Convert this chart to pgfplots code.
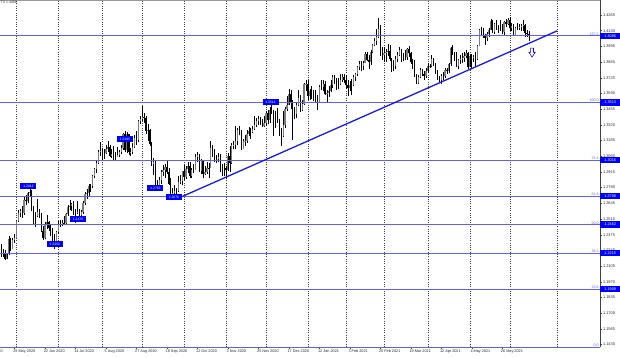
\documentclass[border=0pt]{standalone}
\usepackage{pgfplots}
\pgfplotsset{compat=1.18}
\usepackage{pgfplotstable}
\usepackage{fontspec}
\setmainfont{Liberation Sans}
\newcommand{\fs}[1]{\fontsize{#1}{#1}\selectfont}
\definecolor{fibo}{RGB}{95,95,245}
\definecolor{mtblue}{RGB}{0,0,255}
\definecolor{trend}{RGB}{25,25,225}
\definecolor{bull}{RGB}{125,125,125}
\pgfdeclareplotmark{hdown}{%
  \pgfpathmoveto{\pgfqpoint{-1.4pt}{4.5pt}}%
  \pgfpathlineto{\pgfqpoint{1.4pt}{4.5pt}}%
  \pgfpathlineto{\pgfqpoint{1.4pt}{0.3pt}}%
  \pgfpathlineto{\pgfqpoint{3.2pt}{0.3pt}}%
  \pgfpathlineto{\pgfqpoint{0pt}{-4.5pt}}%
  \pgfpathlineto{\pgfqpoint{-3.2pt}{0.3pt}}%
  \pgfpathlineto{\pgfqpoint{-1.4pt}{0.3pt}}%
  \pgfpathclose
  \pgfusepathqfillstroke
}
\pgfplotstableread{
i o h l c
-7 1.2245 1.2295 1.2185 1.2205
-6 1.2205 1.2250 1.2180 1.2215
-5 1.2215 1.2240 1.2160 1.2170
-4 1.2170 1.2215 1.2165 1.2205
-3 1.2205 1.2365 1.2200 1.2335
-2 1.2335 1.2350 1.2235 1.2255
-1 1.2255 1.2350 1.2250 1.2330
0 1.2330 1.2385 1.2300 1.2345
1 1.2345 1.2505 1.2345 1.2490
2 1.2490 1.2585 1.2485 1.2565
3 1.2565 1.2600 1.2525 1.2580
4 1.2580 1.2620 1.2520 1.2560
5 1.2560 1.2700 1.2545 1.2670
6 1.2670 1.2715 1.2630 1.2665
7 1.2665 1.2745 1.2645 1.2735
8 1.2735 1.2813 1.2705 1.2740
9 1.2740 1.2760 1.2575 1.2595
10 1.2595 1.2625 1.2455 1.2545
11 1.2545 1.2570 1.2440 1.2540
12 1.2540 1.2680 1.2525 1.2570
13 1.2570 1.2600 1.2520 1.2550
14 1.2550 1.2560 1.2395 1.2410
15 1.2410 1.2450 1.2330 1.2345
16 1.2345 1.2485 1.2335 1.2470
17 1.2470 1.2545 1.2425 1.2485
18 1.2485 1.2495 1.2410 1.2430
19 1.2430 1.2460 1.2360 1.2415
20 1.2415 1.2435 1.2320 1.2335
21 1.2335 1.2380 1.2252 1.2320
22 1.2320 1.2410 1.2300 1.2400
23 1.2400 1.2490 1.2385 1.2470
24 1.2470 1.2505 1.2440 1.2470
25 1.2470 1.2500 1.2450 1.2480
26 1.2480 1.2535 1.2455 1.2475
27 1.2475 1.2565 1.2470 1.2550
28 1.2550 1.2630 1.2535 1.2615
29 1.2615 1.2670 1.2585 1.2620
30 1.2620 1.2650 1.2575 1.2635
31 1.2635 1.2665 1.2545 1.2560
32 1.2560 1.2595 1.2480 1.2560
33 1.2560 1.2665 1.2555 1.2570
34 1.2570 1.2600 1.2525 1.2545
35 1.2545 1.2590 1.2510 1.2570
36 1.2570 1.2665 1.2555 1.2645
37 1.2645 1.2745 1.2630 1.2725
38 1.2725 1.2765 1.2685 1.2735
39 1.2735 1.2810 1.2705 1.2795
40 1.2795 1.2815 1.2740 1.2795
41 1.2795 1.2890 1.2780 1.2880
42 1.2880 1.2950 1.2860 1.2940
43 1.2940 1.3015 1.2910 1.2995
44 1.2995 1.3105 1.2980 1.3090
45 1.3090 1.3170 1.3055 1.3095
46 1.3095 1.3125 1.3005 1.3075
47 1.3075 1.3115 1.3030 1.3075
48 1.3075 1.3145 1.3065 1.3110
49 1.3110 1.3185 1.3090 1.3130
50 1.3130 1.3145 1.3045 1.3055
51 1.3055 1.3115 1.3035 1.3070
52 1.3070 1.3135 1.3015 1.3045
53 1.3045 1.3090 1.3005 1.3045
54 1.3045 1.3130 1.3040 1.3060
55 1.3060 1.3105 1.3045 1.3090
56 1.3090 1.3150 1.3070 1.3120
57 1.3120 1.3250 1.3105 1.3240
58 1.3240 1.3265 1.3090 1.3100
59 1.3100 1.3255 1.3080 1.3240
60 1.3240 1.3240 1.3060 1.3085
61 1.3085 1.3125 1.3055 1.3090
62 1.3090 1.3160 1.3065 1.3130
63 1.3130 1.3235 1.3120 1.3210
64 1.3210 1.3265 1.3145 1.3190
65 1.3190 1.3360 1.3175 1.3350
66 1.3350 1.3400 1.3325 1.3370
67 1.3370 1.3482 1.3350 1.3385
68 1.3385 1.3425 1.3340 1.3380
69 1.3380 1.3395 1.3240 1.3270
70 1.3270 1.3325 1.3180 1.3280
71 1.3280 1.3285 1.3140 1.3155
72 1.3155 1.3170 1.2965 1.2980
73 1.2980 1.3035 1.2885 1.3000
74 1.3000 1.3010 1.2780 1.2795
75 1.2795 1.2845 1.2762 1.2795
76 1.2795 1.2870 1.2775 1.2845
77 1.2845 1.2930 1.2815 1.2915
78 1.2915 1.2975 1.2880 1.2935
79 1.2935 1.2985 1.2865 1.2960
80 1.2960 1.3005 1.2900 1.2915
81 1.2915 1.2950 1.2805 1.2815
82 1.2815 1.2860 1.2715 1.2730
83 1.2730 1.2775 1.2676 1.2735
84 1.2735 1.2805 1.2690 1.2750
85 1.2750 1.2775 1.2720 1.2750
86 1.2750 1.2880 1.2740 1.2825
87 1.2825 1.2890 1.2810 1.2835
88 1.2835 1.2925 1.2800 1.2920
89 1.2920 1.2975 1.2845 1.2870
90 1.2870 1.2965 1.2850 1.2940
91 1.2940 1.3000 1.2905 1.2970
92 1.2970 1.3000 1.2865 1.2880
93 1.2880 1.2950 1.2860 1.2935
94 1.2935 1.2985 1.2910 1.2930
95 1.2930 1.3065 1.2930 1.3045
96 1.3045 1.3085 1.3000 1.3060
97 1.3060 1.3070 1.2915 1.2925
98 1.2925 1.3030 1.2895 1.3015
99 1.3015 1.3015 1.2865 1.2895
100 1.2895 1.2965 1.2890 1.2915
101 1.2915 1.3000 1.2900 1.2950
102 1.2950 1.2995 1.2865 1.2945
103 1.2945 1.3177 1.2945 1.3120
104 1.3120 1.3150 1.3045 1.3080
105 1.3080 1.3110 1.3000 1.3035
106 1.3035 1.3060 1.2990 1.3025
107 1.3025 1.3075 1.3000 1.3045
108 1.3045 1.3070 1.2915 1.2965
109 1.2965 1.2985 1.2880 1.2950
110 1.2950 1.2990 1.2880 1.2950
111 1.2950 1.2965 1.2855 1.2930
112 1.2930 1.3080 1.2920 1.3050
113 1.3050 1.3140 1.2915 1.2990
114 1.2990 1.3160 1.2985 1.3145
115 1.3145 1.3180 1.3110 1.3150
116 1.3150 1.3314 1.3110 1.3180
117 1.3180 1.3295 1.3150 1.3275
118 1.3275 1.3312 1.3230 1.3270
119 1.3270 1.3275 1.3105 1.3115
120 1.3115 1.3200 1.3110 1.3180
121 1.3180 1.3230 1.3140 1.3185
122 1.3185 1.3280 1.3165 1.3245
123 1.3245 1.3300 1.3225 1.3270
124 1.3270 1.3290 1.3200 1.3260
125 1.3260 1.3310 1.3250 1.3285
126 1.3285 1.3395 1.3280 1.3320
127 1.3320 1.3375 1.3300 1.3350
128 1.3350 1.3400 1.3320 1.3370
129 1.3370 1.3390 1.3320 1.3340
130 1.3340 1.3370 1.3300 1.3310
131 1.3310 1.3395 1.3300 1.3335
132 1.3335 1.3440 1.3310 1.3425
133 1.3425 1.3445 1.3325 1.3365
134 1.3365 1.3470 1.3340 1.3450
135 1.3450 1.3540 1.3415 1.3440
136 1.3440 1.3445 1.3225 1.3385
137 1.3385 1.3440 1.3290 1.3365
138 1.3365 1.3465 1.3340 1.3360
139 1.3360 1.3370 1.3225 1.3260
140 1.3260 1.3290 1.3135 1.3225
141 1.3225 1.3440 1.3215 1.3320
142 1.3320 1.3470 1.3290 1.3460
143 1.3460 1.3570 1.3435 1.3495
144 1.3495 1.3625 1.3490 1.3585
145 1.3585 1.3620 1.3460 1.3515
146 1.3515 1.3535 1.3188 1.3450
147 1.3450 1.3475 1.3370 1.3410
148 1.3410 1.3505 1.3380 1.3490
149 1.3490 1.3620 1.3480 1.3550
150 1.3550 1.3575 1.3430 1.3450
151 1.3450 1.3535 1.3435 1.3500
152 1.3500 1.3680 1.3490 1.3670
153 1.3670 1.3705 1.3610 1.3675
154 1.3675 1.3705 1.3530 1.3570
155 1.3570 1.3630 1.3535 1.3610
156 1.3610 1.3655 1.3545 1.3605
157 1.3605 1.3620 1.3525 1.3565
158 1.3565 1.3620 1.3510 1.3565
159 1.3565 1.3580 1.3450 1.3515
160 1.3515 1.3665 1.3510 1.3645
161 1.3645 1.3710 1.3620 1.3645
162 1.3645 1.3710 1.3615 1.3670
163 1.3670 1.3700 1.3575 1.3585
164 1.3585 1.3620 1.3520 1.3590
165 1.3590 1.3650 1.3560 1.3615
166 1.3615 1.3710 1.3600 1.3660
167 1.3660 1.3745 1.3640 1.3730
168 1.3730 1.3745 1.3670 1.3685
169 1.3685 1.3720 1.3620 1.3675
170 1.3675 1.3720 1.3625 1.3675
171 1.3675 1.3760 1.3665 1.3705
172 1.3705 1.3755 1.3690 1.3735
173 1.3735 1.3760 1.3680 1.3705
174 1.3705 1.3745 1.3625 1.3665
175 1.3665 1.3710 1.3566 1.3640
176 1.3640 1.3700 1.3610 1.3665
177 1.3665 1.3715 1.3580 1.3660
178 1.3660 1.3750 1.3655 1.3735
179 1.3735 1.3770 1.3700 1.3755
180 1.3755 1.3830 1.3740 1.3820
181 1.3820 1.3865 1.3790 1.3840
182 1.3840 1.3865 1.3780 1.3825
183 1.3825 1.3870 1.3795 1.3850
184 1.3850 1.3950 1.3850 1.3930
185 1.3930 1.3950 1.3865 1.3875
186 1.3875 1.3925 1.3800 1.3860
187 1.3860 1.3965 1.3835 1.3945
188 1.3945 1.4015 1.3935 1.4010
189 1.4010 1.4070 1.3995 1.4040
190 1.4040 1.4145 1.4005 1.4075
191 1.4075 1.4241 1.4065 1.4145
192 1.4145 1.4180 1.3915 1.3925
193 1.3925 1.3990 1.3880 1.3925
194 1.3925 1.3990 1.3860 1.3935
195 1.3935 1.3970 1.3860 1.3950
196 1.3950 1.4015 1.3910 1.3955
197 1.3955 1.4005 1.3865 1.3885
198 1.3885 1.3895 1.3775 1.3835
199 1.3835 1.3875 1.3780 1.3830
200 1.3830 1.3915 1.3800 1.3885
201 1.3885 1.3945 1.3860 1.3920
202 1.3920 1.3990 1.3910 1.3960
203 1.3960 1.3975 1.3860 1.3930
204 1.3930 1.3935 1.3865 1.3905
205 1.3905 1.3965 1.3880 1.3905
206 1.3905 1.3985 1.3875 1.3975
207 1.3975 1.4000 1.3905 1.3935
208 1.3935 1.3950 1.3840 1.3860
209 1.3860 1.3890 1.3800 1.3860
210 1.3860 1.3880 1.3735 1.3750
211 1.3750 1.3760 1.3670 1.3680
212 1.3680 1.3750 1.3670 1.3730
213 1.3730 1.3810 1.3720 1.3790
214 1.3790 1.3800 1.3740 1.3760
215 1.3760 1.3785 1.3710 1.3740
216 1.3740 1.3810 1.3720 1.3780
217 1.3780 1.3850 1.3770 1.3825
218 1.3825 1.3845 1.3805 1.3830
219 1.3830 1.3918 1.3815 1.3885
220 1.3885 1.3895 1.3830 1.3840
221 1.3840 1.3850 1.3760 1.3775
222 1.3775 1.3790 1.3710 1.3725
223 1.3725 1.3740 1.3690 1.3705
224 1.3705 1.3755 1.3670 1.3740
225 1.3740 1.3775 1.3705 1.3740
226 1.3740 1.3805 1.3725 1.3790
227 1.3790 1.3805 1.3760 1.3780
228 1.3780 1.3850 1.3770 1.3840
229 1.3840 1.3990 1.3830 1.3985
230 1.3985 1.4010 1.3920 1.3930
231 1.3930 1.3950 1.3870 1.3925
232 1.3925 1.3945 1.3815 1.3830
233 1.3830 1.3885 1.3800 1.3875
234 1.3875 1.3920 1.3845 1.3885
235 1.3885 1.3935 1.3855 1.3895
236 1.3895 1.3945 1.3860 1.3915
237 1.3915 1.3965 1.3895 1.3940
238 1.3940 1.3950 1.3800 1.3815
239 1.3815 1.3930 1.3815 1.3915
240 1.3915 1.3930 1.3805 1.3895
241 1.3895 1.3920 1.3860 1.3905
242 1.3905 1.3945 1.3820 1.3890
243 1.3890 1.4005 1.3880 1.3995
244 1.3995 1.4145 1.3995 1.4140
245 1.4140 1.4166 1.4085 1.4135
246 1.4135 1.4150 1.4065 1.4095
247 1.4095 1.4105 1.4005 1.4065
248 1.4065 1.4115 1.4040 1.4100
249 1.4100 1.4150 1.4080 1.4140
250 1.4140 1.4234 1.4135 1.4215
251 1.4215 1.4220 1.4110 1.4120
252 1.4120 1.4200 1.4100 1.4185
253 1.4185 1.4220 1.4135 1.4150
254 1.4150 1.4175 1.4110 1.4150
255 1.4150 1.4220 1.4130 1.4140
256 1.4140 1.4190 1.4100 1.4120
257 1.4120 1.4215 1.4095 1.4205
258 1.4205 1.4230 1.4165 1.4190
259 1.4190 1.4235 1.4180 1.4225
260 1.4225 1.4249 1.4130 1.4150
261 1.4150 1.4195 1.4125 1.4170
262 1.4170 1.4190 1.4085 1.4090
263 1.4090 1.4165 1.4085 1.4155
264 1.4155 1.4200 1.4135 1.4155
265 1.4155 1.4185 1.4135 1.4160
266 1.4160 1.4190 1.4125 1.4170
267 1.4170 1.4220 1.4130 1.4175
268 1.4175 1.4185 1.4075 1.4110
269 1.4110 1.4135 1.4072 1.4105
270 1.4105 1.4125 1.4040 1.4086
}\candles

\pgfplotstableread{
x y t
307.35 1.4086 127.2
307.35 1.3513 100.0
307.35 1.3016 76.4
307.35 1.2708 61.8
307.35 1.2462 50.0
307.35 1.2215 38.2
307.35 1.1909 23.6
307.35 1.1409 0.0
}\fiblevels

\pgfplotstableread{
x y t
307.35 1.4086 1.4086
307.35 1.3513 1.3513
307.35 1.3016 1.3016
307.35 1.2708 1.2708
307.35 1.2462 1.2462
307.35 1.2215 1.2215
307.35 1.1909 1.1909
}\fibboxes

\pgfplotstableread{
x y t
7.35 1.2790 1.2813
21.26 1.2291 1.2252
33.33 1.2510 1.2479
58.0 1.3198 1.3185
74.0 1.2777 1.2762
83.7 1.2699 1.2676
134.4 1.3517 1.3514
}\swings

\begin{document}
\begin{tikzpicture}
\begin{axis}[
  at={(0,0)}, anchor=south west,
  width=600pt, height=347pt, scale only axis,
  xmin=-7.61, xmax=307.35, ymin=1.1409, ymax=1.4394,
  axis x line=bottom, axis y line=right,
  axis line style={-, black!75, line width=0.5pt},
  clip=false, set layers,
  tick align=outside, major tick length=2pt,
  tick style={black!75, line width=0.4pt},
  xtick={0,16,32,48,64,80,96,112,128,144,160,176,192,208,224,240,256},
  xticklabels={29 May 2020,22 Jun 2020,14 Jul 2020,5 Aug 2020,27 Aug 2020,18 Sep 2020,12 Oct 2020,3 Nov 2020,25 Nov 2020,17 Dec 2020,12 Jan 2021,3 Feb 2021,25 Feb 2021,19 Mar 2021,12 Apr 2021,4 May 2021,26 May 2021},
  xticklabel style={font=\fs{3.8}, anchor=north west, xshift=-2pt, inner sep=0.6pt, text=black!85},
  ytick={1.1430,1.1565,1.1700,1.1835,1.1970,1.2105,1.2240,1.2375,1.2510,1.2645,1.2780,1.2915,1.3050,1.3185,1.3320,1.3455,1.3590,1.3725,1.3860,1.3995,1.4130,1.4265},
  scaled y ticks=false,
  yticklabel style={font=\fs{3.9}, inner sep=0.8pt, text=black!85, /pgf/number format/.cd, fixed, fixed zerofill, precision=4, assume math mode=true},
  extra x ticks={1,23,46,67,89,111,132,154,174,194,217,239,260,285},
  extra x tick labels={},
  extra x tick style={grid=major, major tick length=0pt, major grid style={black!75, dash pattern=on 1pt off 1.3pt, line width=0.4pt}},
  filter discard warning=false,
]
% wicks
\addplot[draw=none, mark=none, forget plot, error bars/.cd, y dir=plus, y explicit, error mark=none,
  error bar style={draw=black, line width=0.45pt}]
  table[x=i, y=l, y error plus expr=\thisrow{h}-\thisrow{l}] {\candles};
% bull bodies
\addplot[draw=none, mark=none, forget plot, restrict expr to domain={\thisrow{c}-\thisrow{o}}{0:1},
  error bars/.cd, y dir=plus, y explicit, error mark=none,
  error bar style={draw=bull, line width=1.2pt}]
  table[x=i, y=o, y error plus expr=\thisrow{c}-\thisrow{o}] {\candles};
% bear bodies
\addplot[draw=none, mark=none, forget plot, restrict expr to domain={\thisrow{o}-\thisrow{c}}{0.00001:1},
  error bars/.cd, y dir=plus, y explicit, error mark=none,
  error bar style={draw=black, line width=1.2pt}]
  table[x=i, y=c, y error plus expr=\thisrow{o}-\thisrow{c}] {\candles};
% fibonacci levels
\pgfplotsinvokeforeach{1.4086,1.3513,1.3016,1.2708,1.2462,1.2215,1.1909,1.1409}{
  \addplot[fibo, line width=0.7pt] coordinates {(-7.61,#1) (307.35,#1)};
}
% trend line
\addplot[trend, line width=1.3pt] coordinates {(87.8,1.2702) (284.9,1.4129)};
% arrow
\addplot[only marks, mark=hdown, mark options={draw=mtblue, fill=white, line width=0.55pt}] coordinates {(271.7,1.3942)};
% fib labels
\addplot[only marks, mark=*, mark size=0pt, mark options={draw=none, fill=none},
  nodes near coords, point meta=explicit symbolic,
  nodes near coords style={anchor=south east, font=\fs{3.6}, text=fibo, inner sep=0.3pt, xshift=-1pt}]
  table[x=x, y=y, meta=t] {\fiblevels};
% right-hand price boxes
\addplot[only marks, mark=*, mark size=0pt, mark options={draw=none, fill=none},
  nodes near coords, point meta=explicit symbolic,
  nodes near coords style={anchor=west, font=\fs{3.8}, text=white, fill=mtblue, inner sep=0pt, minimum width=20pt, minimum height=6.2pt}]
  table[x=x, y=y, meta=t] {\fibboxes};
% swing boxes
\addplot[only marks, mark=*, mark size=0pt, mark options={draw=none, fill=none},
  nodes near coords, point meta=explicit symbolic,
  nodes near coords style={anchor=center, font=\fs{3.3}, text=white, fill=mtblue, inner sep=0pt, minimum width=16pt, minimum height=6pt}]
  table[x=x, y=y, meta=t] {\swings};
\draw[black!40, line width=0.5pt] (rel axis cs:0,1) -- (rel axis cs:1,1);
\node[anchor=north west, font=\fs{3.5}, inner sep=0.5pt, text=black!80] at (rel axis cs:0,1) {TS 1.4086};
\node[anchor=north west, font=\fs{3.8}, inner sep=0.6pt, text=black!85, xshift=-2pt, yshift=-2pt] at (axis cs:-16,1.1409) {7 May 2020};
\end{axis}
\pgfresetboundingbox
\path[use as bounding box] (0,-10pt) rectangle (620pt,347pt);
\end{tikzpicture}
\end{document}
